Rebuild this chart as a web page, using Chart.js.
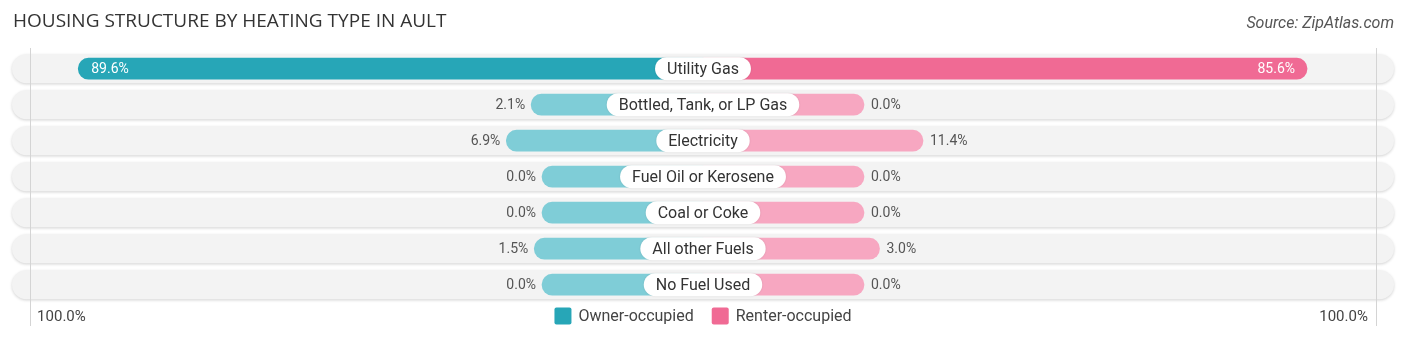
<!DOCTYPE html>
<html>
<head>
<meta charset="utf-8">
<script src="https://cdn.jsdelivr.net/npm/chart.js@4.4.0/dist/chart.umd.min.js"></script>
<style>
  html, body { margin: 0; padding: 0; background: #fff; }
  #wrap { width: 1406px; height: 341px; position: relative; }
</style>
</head>
<body>
<div id="wrap"><canvas id="heatChart"></canvas></div>
<script>
const categories = ['Utility Gas', 'Bottled, Tank, or LP Gas', 'Electricity', 'Fuel Oil or Kerosene', 'Coal or Coke', 'All other Fuels', 'No Fuel Used'];
const ownerValues = [89.6, 2.1, 6.9, 0.0, 0.0, 1.5, 0.0];
const renterValues = [85.6, 0.0, 11.4, 0.0, 0.0, 3.0, 0.0];
const seriesNames = ['Owner-occupied', 'Renter-occupied'];
const edgeLabels = ['100.0%', '100.0%'];

const BASE = 31.1;   // room reserved round the centre label, axis units
const SPAN = 133.5;  // half width of the grey track
const EDGE = 130;    // where the 100% guide lines sit

const teal = '#27a6b7', tealLight = '#7fcdd7';
const pink = '#f06a94', pinkLight = '#f7a7c1';

function pick(values, strong, light) {
  return values.map(v => v > 50 ? strong : light);
}

function pill(ctx, x, y, w, h, r) {
  ctx.beginPath();
  ctx.roundRect(x, y, w, h, r);
}

const rowDecor = {
  id: 'rowDecor',
  beforeDatasetsDraw(chart) {
    const { ctx, scales: { x, y } } = chart;
    const left = x.getPixelForValue(-SPAN), right = x.getPixelForValue(SPAN);
    ctx.save();
    categories.forEach((c, i) => {
      const cy = y.getPixelForValue(i);
      ctx.shadowColor = 'rgba(0,0,0,0.18)';
      ctx.shadowBlur = 3;
      ctx.shadowOffsetY = 1;
      ctx.fillStyle = '#f3f3f3';
      pill(ctx, left, cy - 14.5, right - left, 29, 14.5);
      ctx.fill();
    });
    ctx.shadowColor = 'transparent';
    ctx.strokeStyle = '#d4d4d4';
    ctx.lineWidth = 1;
    [-EDGE, EDGE].forEach(v => {
      const px = Math.round(x.getPixelForValue(v)) + 0.5;
      ctx.beginPath();
      ctx.moveTo(px, 48);
      ctx.lineTo(px, 326);
      ctx.stroke();
    });
    ctx.restore();
  },
  afterDatasetsDraw(chart) {
    const { ctx, scales: { x, y } } = chart;
    ctx.save();
    ctx.textBaseline = 'middle';
    const own = chart.getDatasetMeta(0).data;
    const ren = chart.getDatasetMeta(1).data;
    categories.forEach((c, i) => {
      const cy = y.getPixelForValue(i);
      // value labels
      ctx.font = '14px Roboto';
      const ol = ownerValues[i].toFixed(1) + '%';
      const rl = renterValues[i].toFixed(1) + '%';
      if (ownerValues[i] > 50) {
        ctx.fillStyle = '#fff';
        ctx.textAlign = 'left';
        ctx.fillText(ol, own[i].x + 13, cy + 1);
      } else {
        ctx.fillStyle = '#555';
        ctx.textAlign = 'right';
        ctx.fillText(ol, own[i].x - 6, cy + 1);
      }
      if (renterValues[i] > 50) {
        ctx.fillStyle = '#fff';
        ctx.textAlign = 'right';
        ctx.fillText(rl, ren[i].x - 12, cy + 1);
      } else {
        ctx.fillStyle = '#555';
        ctx.textAlign = 'left';
        ctx.fillText(rl, ren[i].x + 7, cy + 1);
      }
      // centre pill
      ctx.font = '16px Roboto';
      const tw = ctx.measureText(c).width;
      const cx = x.getPixelForValue(0);
      const pw = tw + 24;
      ctx.fillStyle = '#fff';
      ctx.shadowColor = 'rgba(0,0,0,0.12)';
      ctx.shadowBlur = 2;
      pill(ctx, cx - pw / 2, cy - 11.5, pw, 23, 11.5);
      ctx.fill();
      ctx.shadowColor = 'transparent';
      ctx.fillStyle = '#333';
      ctx.textAlign = 'center';
      ctx.fillText(c, cx, cy + 1);
    });
    ctx.restore();
  },
  afterDraw(chart) {
    const { ctx, scales: { x } } = chart;
    ctx.save();
    ctx.textBaseline = 'middle';
    // title + source
    ctx.fillStyle = '#333';
    ctx.textAlign = 'left';
    ctx.font = '19px "Open Sans"';
    ctx.fillText('HOUSING STRUCTURE BY HEATING TYPE IN AULT', 13, 22);
    ctx.fillStyle = '#555';
    ctx.textAlign = 'right';
    ctx.font = 'italic 16px Roboto';
    ctx.fillText('Source: ZipAtlas.com', 1394, 24);
    // edge labels
    ctx.font = '15px Roboto';
    ctx.fillStyle = '#444';
    ctx.textAlign = 'left';
    ctx.fillText(edgeLabels[0], x.getPixelForValue(-EDGE) + 7, 317);
    ctx.textAlign = 'right';
    ctx.fillText(edgeLabels[1], x.getPixelForValue(EDGE) - 8, 317);
    // legend
    ctx.font = '16px Roboto';
    const sq = 17, gap = 7, between = 18;
    const w0 = ctx.measureText(seriesNames[0]).width;
    const w1 = ctx.measureText(seriesNames[1]).width;
    const total = sq + gap + w0 + between + sq + gap + w1;
    let lx = x.getPixelForValue(0) - total / 2;
    const ly = 316;
    [[teal, seriesNames[0], w0], [pink, seriesNames[1], w1]].forEach(([col, name, w]) => {
      ctx.fillStyle = col;
      pill(ctx, lx, ly - sq / 2, sq, sq, 2);
      ctx.fill();
      ctx.fillStyle = '#444';
      ctx.textAlign = 'left';
      ctx.fillText(name, lx + sq + gap, ly + 1);
      lx += sq + gap + w + between;
    });
    ctx.restore();
  }
};

new Chart(document.getElementById('heatChart'), {
  type: 'bar',
  data: {
    labels: categories,
    datasets: [
      {
        label: seriesNames[0],
        data: ownerValues.map(v => -(BASE + v)),
        backgroundColor: pick(ownerValues, teal, tealLight),
        barThickness: 21,
        borderRadius: 10.5,
        borderSkipped: 'start'
      },
      {
        label: seriesNames[1],
        data: renterValues.map(v => BASE + v),
        backgroundColor: pick(renterValues, pink, pinkLight),
        barThickness: 21,
        borderRadius: 10.5,
        borderSkipped: 'start'
      }
    ]
  },
  options: {
    indexAxis: 'y',
    responsive: true,
    maintainAspectRatio: false,
    animation: false,
    layout: { padding: { top: 50.7, bottom: 38.3, left: 12, right: 12 } },
    scales: {
      x: { display: false, stacked: true, min: -SPAN, max: SPAN },
      y: { display: false, stacked: true }
    },
    plugins: {
      legend: { display: false },
      tooltip: { enabled: false }
    }
  },
  plugins: [rowDecor]
});
</script>
</body>
</html>
